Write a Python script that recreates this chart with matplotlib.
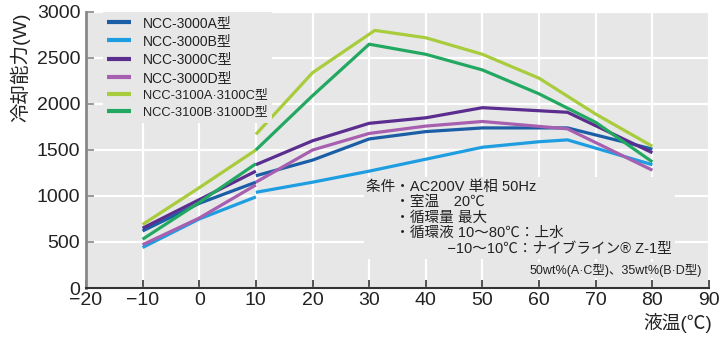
import numpy as np
import matplotlib.pyplot as plt

plt.rcParams['font.family'] = ['Liberation Sans', 'Noto Sans CJK JP', 'DejaVu Sans']

# low temperature range (antifreeze), -10..10
x_low = [-10, 0, 10]
a_low = [620, 920, 1150]
b_low = [440, 750, 990]
c_low = [650, 960, 1270]
d_low = [470, 760, 1120]
ac_low = [690, 1090, 1500]
bd_low = [530, 930, 1350]

# water range, 10..80
a_x = [10, 20, 30, 40, 50, 65, 80]
a_hi = [1220, 1390, 1620, 1700, 1740, 1740, 1510]
b_x = [10, 20, 30, 40, 50, 60, 65, 80]
b_hi = [1040, 1150, 1270, 1400, 1530, 1590, 1610, 1340]
c_x = [10, 20, 30, 40, 50, 65, 80]
c_hi = [1340, 1600, 1790, 1850, 1960, 1910, 1470]
d_x = [10, 20, 30, 40, 50, 65, 80]
d_hi = [1150, 1500, 1680, 1760, 1810, 1730, 1280]
ac_x = [10, 20, 31, 40, 50, 60, 70, 80]
ac_hi = [1670, 2340, 2800, 2720, 2540, 2280, 1890, 1540]
bd_x = [10, 20, 30, 40, 50, 60, 70, 80]
bd_hi = [1500, 2090, 2650, 2540, 2370, 2110, 1800, 1370]

labels = ['NCC-3000A型', 'NCC-3000B型', 'NCC-3000C型', 'NCC-3000D型',
          'NCC-3100A·3100C型', 'NCC-3100B·3100D型']
colors = ['#1b5ea6', '#1e9ee0', '#5a2d8e', '#a75fb0', '#a8cc3c', '#23a862']

series = [(a_low, a_x, a_hi), (b_low, b_x, b_hi), (c_low, c_x, c_hi),
          (d_low, d_x, d_hi), (ac_low, ac_x, ac_hi), (bd_low, bd_x, bd_hi)]

fig = plt.figure(figsize=(7.28, 3.37), dpi=100)
ax = fig.add_axes([0.118, 0.1454, 0.856, 0.819])
ax.set_facecolor('#e7e7e7')

for (lo, hx, hi), col, lab in zip(series, colors, labels):
    ax.plot(x_low, lo, color=col, lw=2.3, label=lab, solid_capstyle='butt')
    ax.plot(hx, hi, color=col, lw=2.3, solid_capstyle='butt')

ax.set_xlim(-20, 90)
ax.set_ylim(0, 3000)
ax.set_xticks(range(-20, 91, 10))
ax.set_xticklabels([str(v).replace('-', '−') for v in range(-20, 91, 10)])
ax.set_yticks(range(0, 3001, 500))
ax.grid(True, color='white', lw=1.6)
ax.set_axisbelow(True)
ax.tick_params(direction='in', length=6, width=1.2, labelsize=14, colors='#333333')
ax.tick_params(axis='y', colors='#888888', labelcolor='#222222', pad=4)
ax.tick_params(axis='x', labelcolor='#222222', pad=3)
for s in ['top', 'right']:
    ax.spines[s].set_visible(False)
ax.spines['left'].set_color('#888888')
ax.spines['left'].set_linewidth(2)
ax.spines['bottom'].set_color('#333333')
ax.spines['bottom'].set_linewidth(1.5)

leg = ax.legend(loc='upper left', fontsize=10, frameon=True, fancybox=False,
                handlelength=1.75, handletextpad=0.85, labelspacing=0.3,
                borderaxespad=0.0, borderpad=0.3, bbox_to_anchor=(0.027, 1.0))
leg.get_frame().set_facecolor('#e7e7e7')
leg.get_frame().set_edgecolor('none')
leg.get_frame().set_alpha(1)
for t in leg.get_texts():
    t.set_color('#222222')
for t in leg.get_texts()[4:]:
    t.set_fontsize(9.3)
for h in leg.get_lines():
    h.set_linewidth(3)

note = ('条件・AC200V 単相 50Hz\n'
        '　　・室温　20℃\n'
        '　　・循環量 最大\n'
        '　　・循環液 10～80℃：上水\n'
        '　　　　　  −10～10℃：ナイブライン® Z-1型')
ax.text(29.5, 1180, note, fontsize=10.5, color='#222222', va='top', ha='left',
        linespacing=1.15,
        bbox=dict(facecolor='#e7e7e7', edgecolor='none', pad=2))
ax.text(88.7, 265, '50wt%(A·C型)、35wt%(B·D型)', fontsize=9, color='#222222',
        ha='right', va='top',
        bbox=dict(facecolor='#e7e7e7', edgecolor='none', pad=1))

fig.text(0.978, 0.012, '液温(℃)', fontsize=13.5, ha='right', va='bottom', color='#222222')
fig.text(0.028, 0.8, '冷却能力(W)', fontsize=14, rotation=90, ha='center', va='center',
         color='#222222')

fig.savefig('out.png', dpi=100)
